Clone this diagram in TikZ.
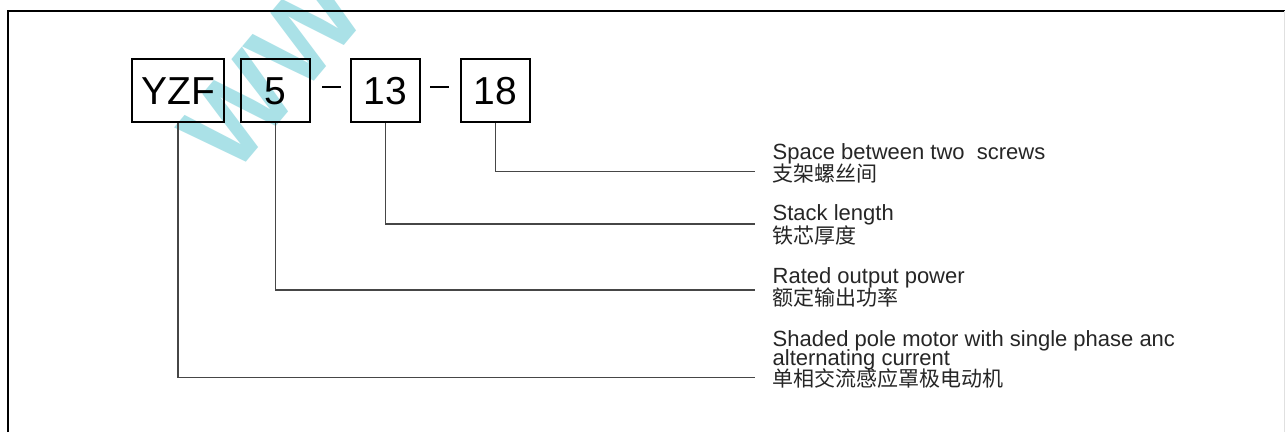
\documentclass[tikz,border=0pt]{standalone}
\usepackage{fontspec}
\setmainfont{Liberation Sans}
\newfontfamily\cjk{Noto Sans CJK SC}
\definecolor{wmark}{RGB}{170,225,231}
\definecolor{connc}{RGB}{70,70,70}
\begin{document}
\begin{tikzpicture}[x=1pt,y=-1pt,
  codebox/.style={draw,line width=1.8pt,minimum height=63pt,inner sep=0pt,
    font=\fontsize{39}{39}\selectfont,text height=28pt,text depth=0pt},
  dashbar/.style={fill=black,minimum width=19pt,minimum height=2pt,inner sep=0pt},
  conn/.style={line width=1.1pt,connc},
  entxt/.style={anchor=base west,inner sep=0pt,font=\fontsize{22}{22}\selectfont,text=black!85},
  cntxt/.style={anchor=base west,inner sep=0pt,font=\cjk\fontsize{21}{21}\selectfont,text=black!85},
  wmtxt/.style={text=wmark,font=\fontsize{112}{112}\selectfont\bfseries,inner sep=0pt}
]
\useasboundingbox (0,0) rectangle (1285,432);
\fill[white] (0,0) rectangle (1285,432);
% watermark
\begin{scope}
\clip (0,0) rectangle (1285,432);
\node[wmtxt,rotate=50] (wm) at (272,72) {WW};
\end{scope}
% frame
\draw[line width=2.2pt] (8,432) -- (8,10.7) -- (1285,10.7);
\draw[line width=0.8pt,black!12] (1284,10.7) -- (1284,432);
% code boxes
\node[codebox,minimum width=92pt] (yzf) at (178,90.8) {YZF};
\node[codebox,minimum width=69pt] (p5) at (275.3,90.8) {5};
\node[dashbar] (d1) at (331.2,86.7) {};
\node[codebox,minimum width=69.6pt] (p13) at (385.4,90.8) {13};
\node[dashbar] (d2) at (439.7,86.7) {};
\node[codebox,minimum width=68.7pt] (p18) at (495.3,90.8) {18};
% connector ends
\coordinate (e18) at (755,171.7);
\coordinate (e13) at (755,224);
\coordinate (e5) at (755,290);
\coordinate (eyzf) at (755,377.3);
\draw[conn] (p18.south) |- (e18);
\draw[conn] (p13.south) |- (e13);
\draw[conn] (p5.south) |- (e5);
\draw[conn] (yzf.south) |- (eyzf);
% labels
\node[entxt] (t18a) at (772.5,159.3) {Space between two\ \ screws};
\node[cntxt] (t18b) at (772.5,181.8) {支架螺丝间};
\node[entxt] (t13a) at (772.5,220.7) {Stack length};
\node[cntxt] (t13b) at (772.5,243.5) {铁芯厚度};
\node[entxt] (t5a) at (772.5,283.3) {Rated output power};
\node[cntxt] (t5b) at (772.5,305) {额定输出功率};
\node[entxt] (tya) at (772.5,346.7) {Shaded pole motor with single phase anc};
\node[entxt] (tyb) at (772.5,365) {alternating current};
\node[cntxt] (tyc) at (772.5,386) {单相交流感应罩极电动机};
\end{tikzpicture}
\end{document}
